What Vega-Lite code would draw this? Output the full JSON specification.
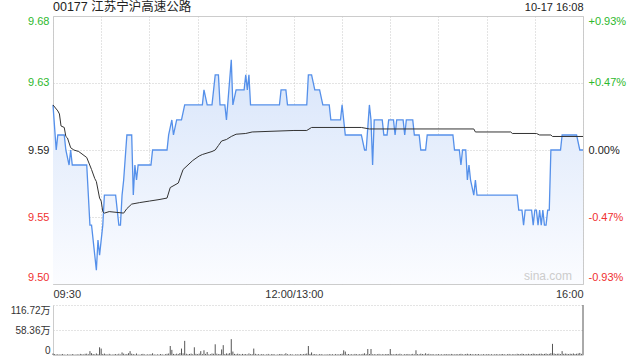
{
 "$schema": "https://vega.github.io/schema/vega-lite/v6.json",
 "padding": {"left": 10, "top": 0, "right": 5, "bottom": 0},
 "background": "white",
 "spacing": 4,
 "config": {
  "font": "Liberation Sans, Noto Sans CJK SC",
  "axis": {"labelFont": "Liberation Sans, Noto Sans CJK SC", "labelFontSize": 11, "labelColor": "#333", "ticks": false, "domain": false, "gridColor": "#c8c8c8", "gridDash": [1, 2]}
 },
 "datasets": {
  "price": [
   {"t":0,"p":9.62},{"t":2,"p":9.59},{"t":3,"p":9.60},{"t":7,"p":9.60},{"t":8,"p":9.59},{"t":10,"p":9.58},{"t":11,"p":9.59},{"t":12,"p":9.58},{"t":21,"p":9.58},{"t":22,"p":9.56},{"t":23,"p":9.54},{"t":24,"p":9.54},{"t":27,"p":9.51},{"t":28,"p":9.53},{"t":29,"p":9.52},{"t":31,"p":9.54},{"t":32,"p":9.56},{"t":39,"p":9.56},{"t":41,"p":9.54},{"t":42,"p":9.54},{"t":43,"p":9.56},{"t":44,"p":9.57},{"t":46,"p":9.60},{"t":49,"p":9.60},{"t":50,"p":9.56},{"t":51,"p":9.58},{"t":52,"p":9.57},{"t":53,"p":9.58},{"t":61,"p":9.58},{"t":62,"p":9.59},{"t":71,"p":9.59},{"t":72,"p":9.60},{"t":74,"p":9.61},{"t":75,"p":9.60},{"t":77,"p":9.61},{"t":80,"p":9.61},{"t":82,"p":9.62},{"t":93,"p":9.62},{"t":94,"p":9.63},{"t":96,"p":9.62},{"t":99,"p":9.62},{"t":101,"p":9.64},{"t":103,"p":9.64},{"t":104,"p":9.62},{"t":107,"p":9.62},{"t":108,"p":9.61},{"t":111,"p":9.65},{"t":112,"p":9.62},{"t":114,"p":9.63},{"t":119,"p":9.63},{"t":120,"p":9.64},{"t":121,"p":9.63},{"t":122,"p":9.64},{"t":123,"p":9.62},{"t":141,"p":9.62},{"t":142,"p":9.63},{"t":145,"p":9.63},{"t":146,"p":9.62},{"t":158,"p":9.62},{"t":159,"p":9.64},{"t":161,"p":9.64},{"t":163,"p":9.63},{"t":166,"p":9.63},{"t":168,"p":9.62},{"t":172,"p":9.62},{"t":173,"p":9.61},{"t":179,"p":9.61},{"t":180,"p":9.62},{"t":182,"p":9.60},{"t":192,"p":9.60},{"t":194,"p":9.59},{"t":195,"p":9.59},{"t":197,"p":9.62},{"t":198,"p":9.61},{"t":199,"p":9.58},{"t":200,"p":9.61},{"t":205,"p":9.61},{"t":206,"p":9.60},{"t":208,"p":9.60},{"t":209,"p":9.61},{"t":212,"p":9.61},{"t":213,"p":9.60},{"t":214,"p":9.61},{"t":218,"p":9.61},{"t":219,"p":9.60},{"t":220,"p":9.61},{"t":224,"p":9.61},{"t":225,"p":9.60},{"t":228,"p":9.60},{"t":229,"p":9.59},{"t":232,"p":9.59},{"t":233,"p":9.60},{"t":249,"p":9.60},{"t":250,"p":9.59},{"t":253,"p":9.59},{"t":254,"p":9.58},{"t":255,"p":9.59},{"t":257,"p":9.59},{"t":258,"p":9.57},{"t":259,"p":9.58},{"t":260,"p":9.57},{"t":262,"p":9.56},{"t":263,"p":9.57},{"t":264,"p":9.56},{"t":289,"p":9.56},{"t":290,"p":9.55},{"t":292,"p":9.55},{"t":293,"p":9.54},{"t":294,"p":9.55},{"t":298,"p":9.55},{"t":299,"p":9.54},{"t":300,"p":9.55},{"t":301,"p":9.55},{"t":302,"p":9.54},{"t":303,"p":9.55},{"t":304,"p":9.54},{"t":305,"p":9.55},{"t":306,"p":9.54},{"t":307,"p":9.54},{"t":308,"p":9.55},{"t":309,"p":9.55},{"t":310,"p":9.59},{"t":316,"p":9.59},{"t":317,"p":9.60},{"t":326,"p":9.60},{"t":328,"p":9.59},{"t":330,"p":9.59}
  ],
  "avg": [
   {"t":0,"a":9.62},{"t":3,"a":9.616},{"t":4,"a":9.614},{"t":5,"a":9.606},{"t":7,"a":9.605},{"t":8,"a":9.599},{"t":9,"a":9.598},{"t":11,"a":9.5915},{"t":13,"a":9.590},{"t":16,"a":9.589},{"t":21,"a":9.585},{"t":24,"a":9.577},{"t":26,"a":9.571},{"t":27,"a":9.569},{"t":29,"a":9.558},{"t":30,"a":9.556},{"t":31,"a":9.549},{"t":32,"a":9.548},{"t":35,"a":9.549},{"t":44,"a":9.548},{"t":46,"a":9.551},{"t":49,"a":9.554},{"t":54,"a":9.555},{"t":60,"a":9.556},{"t":66,"a":9.557},{"t":71,"a":9.558},{"t":73,"a":9.565},{"t":78,"a":9.568},{"t":81,"a":9.577},{"t":87,"a":9.583},{"t":91,"a":9.586},{"t":93,"a":9.587},{"t":99,"a":9.589},{"t":101,"a":9.590},{"t":103,"a":9.593},{"t":105,"a":9.596},{"t":108,"a":9.597},{"t":111,"a":9.599},{"t":114,"a":9.6005},{"t":120,"a":9.601},{"t":124,"a":9.602},{"t":150,"a":9.603},{"t":158,"a":9.603},{"t":161,"a":9.605},{"t":192,"a":9.605},{"t":197,"a":9.604},{"t":262,"a":9.604},{"t":263,"a":9.602},{"t":285,"a":9.602},{"t":286,"a":9.601},{"t":301,"a":9.601},{"t":303,"a":9.600},{"t":310,"a":9.600},{"t":311,"a":9.599},{"t":330,"a":9.599}
  ],
  "vol": [
   {"t":0,"v":3.5},{"t":1,"v":2.1},{"t":2,"v":1.2},{"t":3,"v":1.8},{"t":4,"v":0.9},{"t":5,"v":1.5},{"t":6,"v":2.4},{"t":7,"v":1.1},{"t":8,"v":0.8},{"t":9,"v":1.6},
   {"t":10,"v":1.3},{"t":11,"v":0.9},{"t":12,"v":2.2},{"t":13,"v":1.4},{"t":14,"v":0.7},{"t":15,"v":1.8},{"t":16,"v":1.1},{"t":17,"v":2.6},{"t":18,"v":1.9},{"t":19,"v":1.2},
   {"t":20,"v":2.8},{"t":21,"v":3.1},{"t":22,"v":1.7},{"t":23,"v":9.0},{"t":24,"v":4.2},{"t":25,"v":2.3},{"t":26,"v":1.5},{"t":27,"v":3.6},{"t":28,"v":2.0},{"t":29,"v":18.0},
   {"t":30,"v":15.0},{"t":31,"v":2.4},{"t":32,"v":3.3},{"t":33,"v":1.8},{"t":34,"v":1.1},{"t":35,"v":2.7},{"t":36,"v":1.4},{"t":37,"v":0.9},{"t":38,"v":1.6},{"t":39,"v":2.2},
   {"t":40,"v":1.3},{"t":41,"v":2.9},{"t":42,"v":1.1},{"t":43,"v":6.0},{"t":44,"v":3.2},{"t":45,"v":1.5},{"t":46,"v":2.4},{"t":47,"v":4.1},{"t":48,"v":9.0},{"t":49,"v":3.0},
   {"t":50,"v":2.1},{"t":51,"v":1.4},{"t":52,"v":3.5},{"t":53,"v":1.2},{"t":54,"v":0.8},{"t":55,"v":1.9},{"t":56,"v":2.6},{"t":57,"v":1.3},{"t":58,"v":1.0},{"t":59,"v":1.7},
   {"t":60,"v":1.2},{"t":61,"v":2.0},{"t":62,"v":4.0},{"t":63,"v":1.4},{"t":64,"v":0.9},{"t":65,"v":1.6},{"t":66,"v":1.1},{"t":67,"v":2.3},{"t":68,"v":1.5},{"t":69,"v":0.8},
   {"t":70,"v":1.9},{"t":71,"v":2.8},{"t":72,"v":3.4},{"t":73,"v":21.0},{"t":74,"v":12.0},{"t":75,"v":2.5},{"t":76,"v":1.7},{"t":77,"v":3.1},{"t":78,"v":2.2},{"t":79,"v":4.6},
   {"t":80,"v":15.0},{"t":81,"v":3.8},{"t":82,"v":33.0},{"t":83,"v":2.9},{"t":84,"v":1.6},{"t":85,"v":2.4},{"t":86,"v":3.3},{"t":87,"v":1.8},{"t":88,"v":18.0},{"t":89,"v":2.7},
   {"t":90,"v":1.9},{"t":91,"v":3.2},{"t":92,"v":9.0},{"t":93,"v":2.1},{"t":94,"v":11.0},{"t":95,"v":2.6},{"t":96,"v":7.0},{"t":97,"v":1.5},{"t":98,"v":2.0},{"t":99,"v":3.5},
   {"t":100,"v":2.8},{"t":101,"v":25.0},{"t":102,"v":3.1},{"t":103,"v":1.9},{"t":104,"v":2.4},{"t":105,"v":13.0},{"t":106,"v":23.0},{"t":107,"v":2.2},{"t":108,"v":3.7},{"t":109,"v":2.9},
   {"t":110,"v":4.4},{"t":111,"v":37.0},{"t":112,"v":8.0},{"t":113,"v":2.6},{"t":114,"v":1.8},{"t":115,"v":3.0},{"t":116,"v":2.1},{"t":117,"v":1.4},{"t":118,"v":2.5},{"t":119,"v":1.7},
   {"t":120,"v":2.3},{"t":121,"v":1.2},{"t":122,"v":3.6},{"t":123,"v":1.8},{"t":124,"v":2.0},{"t":125,"v":15.0},{"t":126,"v":2.7},{"t":127,"v":1.5},{"t":128,"v":1.9},{"t":129,"v":1.1},
   {"t":130,"v":2.2},{"t":131,"v":1.6},{"t":132,"v":0.9},{"t":133,"v":1.4},{"t":134,"v":2.5},{"t":135,"v":1.0},{"t":136,"v":1.7},{"t":137,"v":2.1},{"t":138,"v":1.3},{"t":139,"v":0.8},
   {"t":140,"v":1.5},{"t":141,"v":1.9},{"t":142,"v":2.4},{"t":143,"v":1.2},{"t":144,"v":1.6},{"t":145,"v":4.0},{"t":146,"v":1.8},{"t":147,"v":1.1},{"t":148,"v":2.0},{"t":149,"v":1.4},
   {"t":150,"v":0.7},{"t":151,"v":1.3},{"t":152,"v":1.8},{"t":153,"v":1.0},{"t":154,"v":2.2},{"t":155,"v":1.5},{"t":156,"v":1.9},{"t":157,"v":2.6},{"t":158,"v":3.4},{"t":159,"v":21.0},
   {"t":160,"v":2.5},{"t":161,"v":6.0},{"t":162,"v":1.7},{"t":163,"v":2.3},{"t":164,"v":1.4},{"t":165,"v":1.1},{"t":166,"v":1.9},{"t":167,"v":2.0},{"t":168,"v":1.3},{"t":169,"v":0.9},
   {"t":170,"v":1.6},{"t":171,"v":1.2},{"t":172,"v":2.1},{"t":173,"v":1.5},{"t":174,"v":1.8},{"t":175,"v":1.0},{"t":176,"v":2.4},{"t":177,"v":1.3},{"t":178,"v":1.7},{"t":179,"v":2.0},
   {"t":180,"v":2.9},{"t":181,"v":11.0},{"t":182,"v":8.0},{"t":183,"v":1.6},{"t":184,"v":2.2},{"t":185,"v":1.4},{"t":186,"v":1.9},{"t":187,"v":1.1},{"t":188,"v":2.5},{"t":189,"v":1.8},
   {"t":190,"v":1.3},{"t":191,"v":2.0},{"t":192,"v":1.5},{"t":193,"v":2.7},{"t":194,"v":4.0},{"t":195,"v":1.9},{"t":196,"v":14.0},{"t":197,"v":2.3},{"t":198,"v":14.0},{"t":199,"v":1.6},
   {"t":200,"v":2.1},{"t":201,"v":1.4},{"t":202,"v":1.8},{"t":203,"v":2.6},{"t":204,"v":1.2},{"t":205,"v":2.0},{"t":206,"v":1.5},{"t":207,"v":1.7},{"t":208,"v":2.3},{"t":209,"v":1.9},
   {"t":210,"v":14.0},{"t":211,"v":2.2},{"t":212,"v":1.3},{"t":213,"v":1.8},{"t":214,"v":2.5},{"t":215,"v":1.6},{"t":216,"v":2.9},{"t":217,"v":1.4},{"t":218,"v":1.0},{"t":219,"v":2.1},
   {"t":220,"v":1.7},{"t":221,"v":2.4},{"t":222,"v":1.2},{"t":223,"v":1.9},{"t":224,"v":2.6},{"t":225,"v":1.5},{"t":226,"v":11.0},{"t":227,"v":2.0},{"t":228,"v":1.8},{"t":229,"v":3.1},
   {"t":230,"v":2.3},{"t":231,"v":1.6},{"t":232,"v":4.0},{"t":233,"v":1.9},{"t":234,"v":2.8},{"t":235,"v":1.4},{"t":236,"v":2.1},{"t":237,"v":1.5},{"t":238,"v":1.2},{"t":239,"v":1.8},
   {"t":240,"v":2.0},{"t":241,"v":1.3},{"t":242,"v":1.7},{"t":243,"v":1.1},{"t":244,"v":2.2},{"t":245,"v":1.6},{"t":246,"v":1.9},{"t":247,"v":1.4},{"t":248,"v":2.5},{"t":249,"v":1.8},
   {"t":250,"v":1.2},{"t":251,"v":2.1},{"t":252,"v":1.6},{"t":253,"v":1.9},{"t":254,"v":2.7},{"t":255,"v":1.5},{"t":256,"v":1.3},{"t":257,"v":2.3},{"t":258,"v":2.9},{"t":259,"v":1.7},
   {"t":260,"v":2.4},{"t":261,"v":1.8},{"t":262,"v":1.4},{"t":263,"v":2.0},{"t":264,"v":1.6},{"t":265,"v":2.2},{"t":266,"v":1.1},{"t":267,"v":1.5},{"t":268,"v":1.9},{"t":269,"v":1.3},
   {"t":270,"v":1.7},{"t":271,"v":2.1},{"t":272,"v":1.4},{"t":273,"v":1.8},{"t":274,"v":1.2},{"t":275,"v":1.6},{"t":276,"v":2.0},{"t":277,"v":1.5},{"t":278,"v":1.3},{"t":279,"v":1.9},
   {"t":280,"v":2.3},{"t":281,"v":1.6},{"t":282,"v":1.1},{"t":283,"v":1.8},{"t":284,"v":2.5},{"t":285,"v":1.4},{"t":286,"v":1.7},{"t":287,"v":2.0},{"t":288,"v":1.2},{"t":289,"v":2.8},
   {"t":290,"v":2.2},{"t":291,"v":1.9},{"t":292,"v":3.0},{"t":293,"v":2.4},{"t":294,"v":1.6},{"t":295,"v":2.1},{"t":296,"v":2.7},{"t":297,"v":1.8},{"t":298,"v":2.3},{"t":299,"v":3.2},
   {"t":300,"v":2.6},{"t":301,"v":1.9},{"t":302,"v":2.4},{"t":303,"v":2.8},{"t":304,"v":3.1},{"t":305,"v":2.2},{"t":306,"v":2.5},{"t":307,"v":3.4},{"t":308,"v":2.0},{"t":309,"v":2.7},
   {"t":310,"v":4.2},{"t":311,"v":26.0},{"t":312,"v":3.5},{"t":313,"v":2.4},{"t":314,"v":2.9},{"t":315,"v":3.1},{"t":316,"v":2.0},{"t":317,"v":9.0},{"t":318,"v":2.6},{"t":319,"v":3.3},
   {"t":320,"v":2.8},{"t":321,"v":2.1},{"t":322,"v":3.0},{"t":323,"v":2.5},{"t":324,"v":3.6},{"t":325,"v":2.2},{"t":326,"v":2.9},{"t":327,"v":3.4},{"t":328,"v":4.8},{"t":329,"v":2.6},
   {"t":330,"v":116.72}
  ]
 },
 "vconcat": [
  {
   "width": 530,
   "height": 268,
   "view": {"stroke": "#cccccc"},
   "title": {"text": "00177 江苏宁沪高速公路", "anchor": "start", "frame": "group", "fontSize": 12.5, "fontWeight": "normal", "color": "#222", "offset": -12, "font": "Liberation Sans, Noto Sans CJK SC"},
   "resolve": {"axis": {"x": "independent", "y": "independent"}},
   "layer": [
    {
     "data": {"name": "price"},
     "mark": {"type": "area", "color": {"gradient": "linear", "x1": 0, "y1": 0, "x2": 0, "y2": 1, "stops": [{"offset": 0, "color": "#d8e5fa"}, {"offset": 1, "color": "#fbfcff"}]}},
     "encoding": {
      "x": {"field": "t", "type": "quantitative", "scale": {"domain": [0, 330], "nice": false, "zero": false},
            "axis": {"orient": "bottom", "values": [0, 30, 60, 90, 120, 150, 180, 210, 240, 270, 300, 330], "labelExpr": "datum.value == 0 ? '09:30' : datum.value == 150 ? '12:00/13:00' : datum.value == 330 ? '16:00' : ''", "grid": true, "labelFlush": true, "labelOverlap": false, "labelPadding": 4, "title": null}},
      "y": {"field": "p", "type": "quantitative", "stack": null, "scale": {"domain": [9.50081, 9.67919], "zero": false, "nice": false},
            "axis": {"orient": "left", "values": [9.5051, 9.5454, 9.59, 9.6346, 9.6752], "labelExpr": "datum.value > 9.66 ? '9.68' : datum.value > 9.62 ? '9.63' : datum.value > 9.58 ? '9.59' : datum.value > 9.52 ? '9.55' : '9.50'", "labelColor": {"condition": [{"test": "datum.value > 9.6", "value": "#2db82d"}, {"test": "datum.value < 9.58", "value": "#f03030"}], "value": "#222"}, "grid": false, "labelFlush": false, "labelPadding": 4, "title": null}},
      "y2": {"datum": 9.50081}
     }
    },
    {
     "data": {"name": "price"},
     "mark": {"type": "line", "color": "#5590ea", "strokeWidth": 1.3},
     "encoding": {
      "x": {"field": "t", "type": "quantitative", "axis": null},
      "y": {"field": "p", "type": "quantitative", "axis": {"orient": "left", "values": [9.5454, 9.59, 9.6346], "labels": false, "grid": true, "title": null}}
     }
    },
    {
     "data": {"name": "avg"},
     "mark": {"type": "line", "color": "#333333", "strokeWidth": 1},
     "encoding": {
      "x": {"field": "t", "type": "quantitative", "axis": null},
      "y": {"field": "a", "type": "quantitative",
            "axis": {"orient": "right", "values": [9.5051, 9.5454, 9.59, 9.6346, 9.6752], "labelExpr": "datum.value > 9.66 ? '+0.93%' : datum.value > 9.62 ? '+0.47%' : datum.value > 9.58 ? '0.00%' : datum.value > 9.52 ? '-0.47%' : '-0.93%'", "labelColor": {"condition": [{"test": "datum.value > 9.6", "value": "#2db82d"}, {"test": "datum.value < 9.58", "value": "#f03030"}], "value": "#222"}, "grid": false, "labelFlush": false, "labelPadding": 5, "title": null}}
     }
    },
    {
     "data": {"values": [{"label": "sina.com"}]},
     "mark": {"type": "text", "align": "right", "baseline": "bottom", "dx": -11, "dy": -1, "fontSize": 12, "color": "#cccccc", "font": "Liberation Sans"},
     "encoding": {
      "x": {"datum": 330, "type": "quantitative",
            "axis": {"orient": "top", "labels": false, "grid": false, "domain": false, "ticks": false, "title": "10-17 16:08", "titleAnchor": "end", "titleFontWeight": "normal", "titleFontSize": 11, "titleColor": "#222", "titlePadding": 4, "titleFont": "Liberation Sans"}},
      "y": {"datum": 9.50081, "type": "quantitative", "axis": null},
      "text": {"field": "label"}
     }
    }
   ]
  },
  {
   "width": 530,
   "height": 50,
   "view": {"stroke": null},
   "data": {"name": "vol"},
   "mark": {"type": "rule", "color": "#555555", "strokeWidth": 1},
   "encoding": {
    "x": {"field": "t", "type": "quantitative", "scale": {"domain": [0, 330], "nice": false, "zero": false},
          "axis": {"labels": false, "grid": false, "domain": true, "domainColor": "#cccccc", "title": null}},
    "y": {"field": "v", "type": "quantitative", "scale": {"domain": [0, 116.72], "nice": false},
          "axis": {"values": [0, 58.36, 116.72], "labelExpr": "datum.value == 0 ? '0' : datum.value < 100 ? '58.36万' : '116.72万'", "labelFontSize": 10, "labelFlush": true, "grid": true, "domain": true, "domainColor": "#cccccc", "labelPadding": 3, "title": null}},
    "y2": {"datum": 0}
   }
  }
 ]
}
